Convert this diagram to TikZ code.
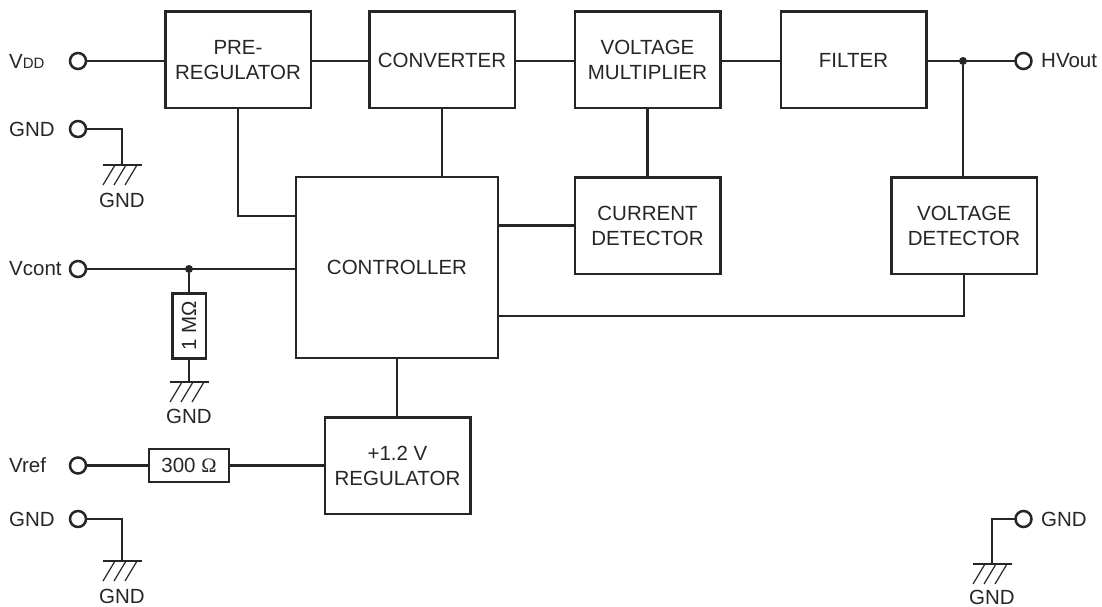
\documentclass[tikz,border=0pt]{standalone}
\usepackage{fontspec}
\setmainfont{Liberation Sans}
\newfontfamily\omegafont{Liberation Serif}
\tikzset{
  block/.style={draw,rectangle,line width=2.5pt,outer sep=0pt,inner sep=0pt,align=center,minimum width=145.5pt,minimum height=96.5pt},
  resistor/.style={draw,rectangle,line width=2.5pt,outer sep=0pt,inner sep=0pt},
  terminal/.style={draw,circle,line width=2.5pt,fill=white,inner sep=0pt,outer sep=0pt,minimum size=16pt},
  junction/.style={circle,fill=black!85,inner sep=0pt,minimum size=8pt},
  label/.style={inner sep=0pt,anchor=west},
  gndlabel/.style={inner sep=0pt},
  wire/.style={line width=2.5pt,line join=miter},
  hatch/.style={line width=1.2pt}
}
\begin{document}
\begin{tikzpicture}[x=1pt,y=-1pt,color=black!85,font=\fontsize{20.5}{25}\selectfont]
\useasboundingbox (0,0) rectangle (1102,607);
% blocks
\node[block] (prereg) at (238,60) {PRE-\\REGULATOR};
\node[block] (conv) at (442,60) {CONVERTER};
\node[block] (mult) at (647.5,60) {VOLTAGE\\MULTIPLIER};
\node[block] (filter) at (853.5,60) {FILTER};
\node[block,minimum width=202pt,minimum height=181pt] (ctrl) at (397,267.5) {CONTROLLER};
\node[block] (curr) at (647.5,225.5) {CURRENT\\DETECTOR};
\node[block] (volt) at (964,225.5) {VOLTAGE\\DETECTOR};
\node[block] (reg) at (397.5,465.5) {+1.2 V\\REGULATOR};
\node[resistor,minimum width=80pt,minimum height=33pt] (rref) at (189,465.5) {300 {\omegafont Ω}};
\node[resistor,minimum width=33.5pt,minimum height=65pt] (rcont) at (189,326) {\rotatebox{90}{1 MΩ}};
% terminals
\node[terminal] (vdd) at (78,61) {};
\node[terminal] (gnda) at (78,129) {};
\node[terminal] (vcont) at (78,269) {};
\node[terminal] (vref) at (78,465.5) {};
\node[terminal] (gndb) at (78,519) {};
\node[terminal] (hvout) at (1023.5,61) {};
\node[terminal] (gndc) at (1023.5,519) {};
\node[label] (vddtxt) at (9,61) {V{\fontsize{15}{15}\selectfont DD}};
\node[label] (gndatxt) at (9,129) {GND};
\node[label] (vconttxt) at (9,269) {Vcont};
\node[label] (vreftxt) at (9,465.5) {Vref};
\node[label] (gndbtxt) at (9,519) {GND};
\node[label] (hvouttxt) at (1041,61) {HVout};
\node[label] (gndctxt) at (1041,519) {GND};
\node[junction] (jcont) at (189,269) {};
\node[junction] (jhv) at (963,61) {};
% ground symbols
\foreach \g/\x/\y/\t in {ga/122/165/200,gb/189/382/416.5,gc/122/561/596,gd/992/564/597}{
  \coordinate (\g) at (\x,\y);
  \draw[wire] ([xshift=-19.5pt]\g) -- ([xshift=19.5pt]\g);
  \foreach \d in {-17,-6,5}
    \draw[hatch] ([xshift=\d+10 pt]\g) -- ([xshift=\d-2 pt,yshift=-20pt]\g);
  \node[gndlabel] (\g txt) at (\x,\t) {GND};
}
% connectors
\draw[wire] (vdd) -- (vdd -| prereg.west);
\draw[wire] (prereg.east |- vdd) -- (conv.west |- vdd);
\draw[wire] (conv.east |- vdd) -- (mult.west |- vdd);
\draw[wire] (mult.east |- vdd) -- (filter.west |- vdd);
\draw[wire] (filter.east |- vdd) -- (hvout);
\draw[wire] (jhv) -- (jhv |- volt.north);
\draw[wire] (prereg.south) |- (ctrl.west |- 0,216);
\draw[wire] (conv.south) -- (conv.south |- ctrl.north);
\draw[wire] (mult.south) -- (curr.north);
\draw[wire] (curr.west) -- (curr.west -| ctrl.east);
\draw[wire] (volt.south) |- (ctrl.east |- 0,316);
\draw[wire] (vcont) -- (vcont -| ctrl.west);
\draw[wire] (jcont) -- (rcont.north);
\draw[wire] (rcont.south) -- (gb);
\draw[wire] (ctrl.south) -- (ctrl.south |- reg.north);
\draw[wire] (vref) -- (rref.west);
\draw[wire] (rref.east) -- (reg.west);
\draw[wire] (gnda) -| (ga);
\draw[wire] (gndb) -| (gc);
\draw[wire] (gndc) -| (gd);
\end{tikzpicture}
\end{document}
